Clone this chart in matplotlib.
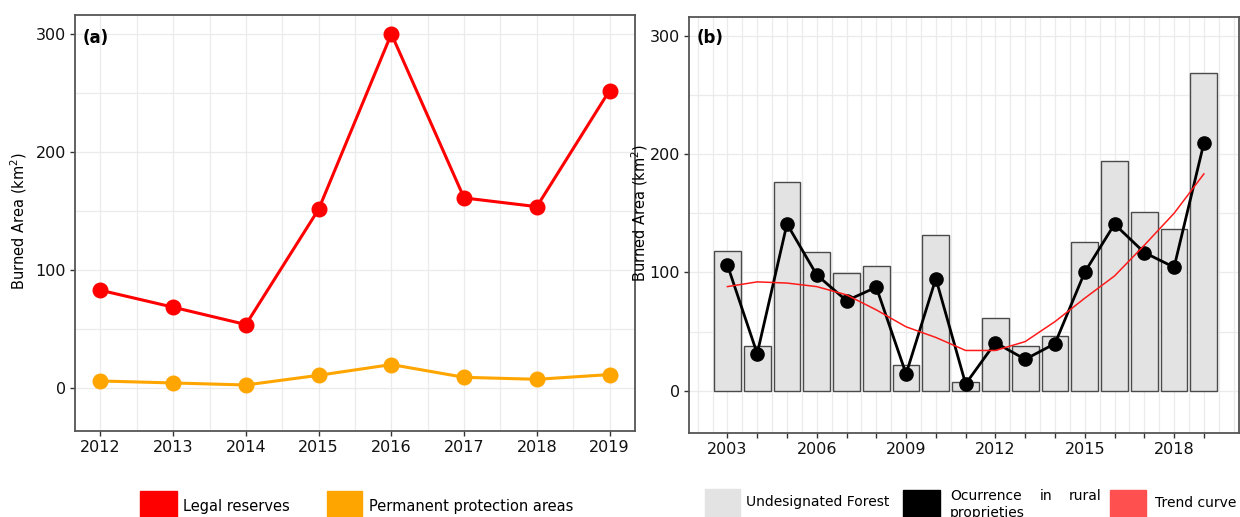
import matplotlib
matplotlib.use("Agg")
import matplotlib.pyplot as plt
from matplotlib.patches import Rectangle
import numpy as np

# ---------------- data ----------------
years_a = [2012, 2013, 2014, 2015, 2016, 2017, 2018, 2019]
legal_reserves = [82.8, 68.4, 53.7, 151.4, 300.0, 161.0, 153.6, 252.0]
permanent_protection = [5.9, 4.2, 2.5, 10.7, 19.8, 9.0, 7.3, 11.3]

years_b = list(range(2003, 2020))
undesignated_forest = [118.4, 38.1, 176.3, 117.6, 99.8, 105.5, 21.5, 131.5, 7.1,
                       61.3, 38.1, 46.3, 126.1, 194.6, 150.9, 137.1, 269.0]
rural_occurrence = [106.3, 31.3, 141.0, 97.9, 76.1, 87.5, 14.1, 94.8, 5.7,
                    40.6, 26.5, 39.8, 100.2, 140.8, 116.8, 104.4, 209.3]
trend_curve = [88.0, 92.0, 91.0, 88.0, 81.0, 68.3, 54.0, 45.0, 34.0,
               34.0, 41.5, 58.4, 78.2, 97.0, 123.0, 150.0, 183.3]
xtick_labels_b = [2003, 2006, 2009, 2012, 2015, 2018]
yticks = [0, 100, 200, 300]
yminor = [50, 150, 250]

W, H = 1240, 517
fig = plt.figure(figsize=(W / 100, H / 100), dpi=100)

def fx(px):
    return px / W

def fy(py):
    return 1 - py / H

GRID = "#ebebeb"
SPINE = "#555555"

def style_axes(ax):
    ax.set_facecolor("white")
    for s in ax.spines.values():
        s.set_color(SPINE)
        s.set_linewidth(1.3)
    ax.grid(True, which="both", color=GRID, linewidth=0.9, zorder=0)
    ax.set_axisbelow(True)
    ax.tick_params(which="major", length=3.5, width=1, color="#333333",
                   labelsize=11.5, labelcolor="#111111", pad=3)
    ax.tick_params(which="minor", length=0)
    ax.set_yticks(yticks)
    ax.set_yticks(yminor, minor=True)

# ---------------- panel (a) ----------------
ax1 = fig.add_axes([fx(75), fy(431), fx(635) - fx(75), fy(15) - fy(431)])
style_axes(ax1)
ax1.plot(years_a, legal_reserves, color="#ff0000", lw=2.2, marker="o",
         ms=10.5, zorder=3)
ax1.plot(years_a, permanent_protection, color="#ffa500", lw=2.2, marker="o",
         ms=10.5, zorder=3)
ax1.set_xticks(years_a)
ax1.set_xticks(np.array(years_a[:-1]) + 0.5, minor=True)
ax1.set_xlim(2011.65, 2019.35)
ax1.set_ylim(-36.5, 316)
fig.text(fx(83), fy(38), "(a)", fontsize=12, fontweight="bold",
         ha="left", va="center")
fig.text(fx(19), fy(221), "Burned Area (km$^2$)", rotation=90, fontsize=10.5,
         ha="center", va="center")

# ---------------- panel (b) ----------------
ax2 = fig.add_axes([fx(689), fy(433), fx(1239) - fx(689), fy(17) - fy(433)])
style_axes(ax2)
ax2.bar(years_b, undesignated_forest, width=0.9, color="#e3e3e3",
        edgecolor="#4a4a4a", linewidth=1.0, zorder=2)
ax2.plot(years_b, rural_occurrence, color="black", lw=2.0, marker="o",
         ms=9.5, zorder=3)
ax2.plot(years_b, trend_curve, color="#ff1a1a", lw=1.1, zorder=4)
ax2.set_xticks(years_b)
ax2.set_xticklabels([str(y) if y in xtick_labels_b else "" for y in years_b])
ax2.set_xticks(np.arange(2001.5, 2020.5, 0.5), minor=True)
ax2.set_xlim(2001.71, 2020.18)
ax2.set_ylim(-35.8, 316)
fig.text(fx(697), fy(38), "(b)", fontsize=12, fontweight="bold",
         ha="left", va="center")
fig.text(fx(640), fy(213), "Burned Area (km$^2$)", rotation=90, fontsize=10.5,
         ha="center", va="center")

# ---------------- legends ----------------
def square(x0, x1, y0, color):
    fig.patches.append(Rectangle((fx(x0), 0), fx(x1) - fx(x0), fy(y0),
                                 transform=fig.transFigure, color=color,
                                 zorder=5))

square(140, 177, 491, "#ff0000")
fig.text(fx(183), fy(506), "Legal reserves", fontsize=10.5, va="center")
square(327, 362, 491, "#ffa500")
fig.text(fx(369), fy(506), "Permanent protection areas", fontsize=10.5,
         va="center")

square(705, 740, 489, "#e3e3e3")
fig.text(fx(746), fy(502), "Undesignated Forest", fontsize=10, va="center")
square(903, 940, 490, "#000000")
fig.text(fx(950), fy(496), "Ocurrence", fontsize=10, va="center")
fig.text(fx(1040), fy(496), "in", fontsize=10, va="center")
fig.text(fx(1069), fy(496), "rural", fontsize=10, va="center")
fig.text(fx(950), fy(513), "proprieties", fontsize=10, va="center")
square(1110, 1146, 490, "#ff5050")
fig.text(fx(1155), fy(503), "Trend curve", fontsize=10, va="center")

fig.savefig("out.png", dpi=100)
